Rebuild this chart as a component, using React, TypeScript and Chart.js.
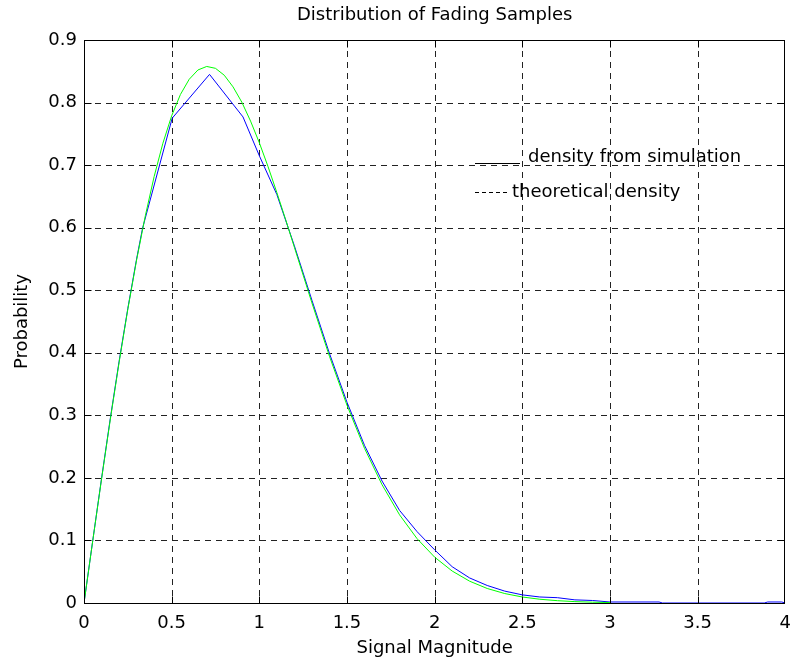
import React, { useEffect, useRef } from "react";
import { Chart, registerables } from "chart.js";

Chart.register(...registerables);

const titleText = "Distribution of Fading Samples";
const xTitle = "Signal Magnitude";
const yTitle = "Probability";
const legendLabels = ["density from simulation", "theoretical density"];

const xTicks = [0, 0.5, 1, 1.5, 2, 2.5, 3, 3.5, 4];
const yTicks = [0, 0.1, 0.2, 0.3, 0.4, 0.5, 0.6, 0.7, 0.8, 0.9];

// density from simulation (blue)
const simX = [0, 0.05, 0.1, 0.15, 0.2, 0.25, 0.3, 0.334, 0.503, 0.716, 0.907, 1.0, 1.1, 1.2, 1.3, 1.4, 1.5, 1.6, 1.7, 1.8, 1.9, 2.0, 2.1, 2.2, 2.3, 2.4, 2.5, 2.6, 2.7, 2.8, 2.9, 3.0, 3.28, 3.3, 3.88, 3.9, 3.98, 4.0];
const simY = [0, 0.1, 0.199, 0.295, 0.386, 0.471, 0.55, 0.599, 0.775, 0.845, 0.777, 0.715, 0.653, 0.571, 0.484, 0.399, 0.321, 0.252, 0.195, 0.148, 0.114, 0.085, 0.058, 0.04, 0.028, 0.019, 0.013, 0.0096, 0.0085, 0.005, 0.004, 0.0016, 0.0016, 0, 0, 0.0016, 0.0016, 0];

// theoretical density (green)
const theoX = [0, 0.05, 0.1, 0.15, 0.2, 0.25, 0.3, 0.35, 0.4, 0.45, 0.5, 0.55, 0.6, 0.65, 0.7, 0.75, 0.8, 0.85, 0.9, 0.95, 1.0, 1.05, 1.1, 1.15, 1.2, 1.3, 1.4, 1.5, 1.6, 1.7, 1.8, 1.9, 2.0, 2.1, 2.2, 2.3, 2.4, 2.5, 2.6, 2.7, 2.8, 2.9, 3.0];
const theoY = [0, 0.0998, 0.198, 0.2933, 0.3843, 0.4697, 0.5484, 0.6193, 0.6817, 0.735, 0.7788, 0.8129, 0.8372, 0.8521, 0.8577, 0.8547, 0.8437, 0.8251, 0.8007, 0.7704, 0.7358, 0.6974, 0.6561, 0.613, 0.5686, 0.4797, 0.3944, 0.3162, 0.2473, 0.1891, 0.1409, 0.1028, 0.0733, 0.0511, 0.0348, 0.0232, 0.0151, 0.0096, 0.006, 0.0037, 0.0022, 0.0013, 0.0007];

const FONT = "'DejaVu Sans', sans-serif";

const decorPlugin = {
  id: "decor",
  beforeDatasetsDraw(chart: any) {
    const { ctx, chartArea: a, scales } = chart;
    const xs = scales.x;
    const ys = scales.y;
    ctx.save();
    ctx.strokeStyle = "#222";
    ctx.lineWidth = 1;
    ctx.setLineDash([6, 5]);
    for (const v of xTicks) {
      if (v === xTicks[0] || v === xTicks[xTicks.length - 1]) continue;
      const px = Math.round(xs.getPixelForValue(v)) + 0.5;
      ctx.beginPath();
      ctx.moveTo(px, a.top);
      ctx.lineTo(px, a.bottom);
      ctx.stroke();
    }
    for (const v of yTicks) {
      if (v === yTicks[0] || v === yTicks[yTicks.length - 1]) continue;
      const py = Math.round(ys.getPixelForValue(v)) + 0.5;
      ctx.beginPath();
      ctx.moveTo(a.left, py);
      ctx.lineTo(a.right, py);
      ctx.stroke();
    }
    ctx.restore();
  },
  afterDatasetsDraw(chart: any) {
    const { ctx, chartArea: a, scales } = chart;
    const xs = scales.x;
    const ys = scales.y;
    ctx.save();
    ctx.strokeStyle = "#000";
    ctx.lineWidth = 1;
    ctx.setLineDash([]);
    const L = Math.round(a.left) + 0.5;
    const R = Math.round(a.right) - 0.5;
    const T = Math.round(a.top) + 0.5;
    const B = Math.round(a.bottom) + 0.5;
    ctx.strokeRect(L, T, R - L, B - T);
    const tl = 7;
    ctx.beginPath();
    for (const v of xTicks) {
      const px = Math.min(R, Math.max(L, Math.round(xs.getPixelForValue(v)) + 0.5));
      ctx.moveTo(px, B);
      ctx.lineTo(px, B - tl);
      ctx.moveTo(px, T);
      ctx.lineTo(px, T + tl);
    }
    for (const v of yTicks) {
      const py = Math.min(B, Math.max(T, Math.round(ys.getPixelForValue(v)) + 0.5));
      ctx.moveTo(L, py);
      ctx.lineTo(L + tl, py);
      ctx.moveTo(R, py);
      ctx.lineTo(R - tl, py);
    }
    ctx.stroke();

    ctx.fillStyle = "#000";
    ctx.textAlign = "center";
    ctx.textBaseline = "middle";
    ctx.font = `18px ${FONT}`;
    const cx = (a.left + a.right) / 2;
    ctx.fillText(titleText, cx, 15);
    ctx.fillText(xTitle, cx, 648);
    ctx.save();
    ctx.translate(22, (a.top + a.bottom) / 2);
    ctx.rotate(-Math.PI / 2);
    ctx.fillText(yTitle, 0, 0);
    ctx.restore();

    // legend (no box)
    ctx.textAlign = "left";
    ctx.beginPath();
    ctx.moveTo(475, 163.5);
    ctx.lineTo(520, 163.5);
    ctx.stroke();
    ctx.fillText(legendLabels[0], 528, 157);
    ctx.setLineDash([4, 3]);
    ctx.beginPath();
    ctx.moveTo(475, 192.5);
    ctx.lineTo(508, 192.5);
    ctx.stroke();
    ctx.setLineDash([]);
    ctx.fillText(legendLabels[1], 512, 192);
    ctx.restore();
  },
};

export default function App() {
  const ref = useRef<HTMLCanvasElement | null>(null);
  useEffect(() => {
    document.body.style.margin = "0";
    const canvas = ref.current!;
    const chart = new Chart(canvas, {
      type: "line",
      data: {
        datasets: [
          {
            label: legendLabels[1],
            data: theoX.map((x, i) => ({ x, y: theoY[i] })),
            borderColor: "#00ff00",
            borderWidth: 1,
            pointRadius: 0,
            tension: 0,
            order: 0,
          },
          {
            label: legendLabels[0],
            data: simX.map((x, i) => ({ x, y: simY[i] })),
            borderColor: "#0000ff",
            borderWidth: 1,
            pointRadius: 0,
            tension: 0,
            order: 1,
          },
        ],
      },
      options: {
        responsive: false,
        animation: false,
        events: [],
        layout: { padding: { top: 40, right: 7, left: 0, bottom: 0 } },
        plugins: {
          legend: { display: false },
          tooltip: { enabled: false },
          title: { display: false },
        },
        scales: {
          x: {
            type: "linear",
            min: 0,
            max: 4,
            afterBuildTicks: (s: any) => {
              s.ticks = xTicks.map((v) => ({ value: v }));
            },
            afterFit: (s: any) => {
              s.height = 61;
            },
            grid: { display: false, drawTicks: false },
            border: { display: false },
            ticks: {
              color: "#000",
              font: { family: FONT, size: 18 },
              padding: 10,
              maxRotation: 0,
              autoSkip: false,
              callback: (v: any) => String(v),
            },
          },
          y: {
            type: "linear",
            min: 0,
            max: 0.9,
            afterBuildTicks: (s: any) => {
              s.ticks = yTicks.map((v) => ({ value: v }));
            },
            afterFit: (s: any) => {
              s.width = 84;
            },
            grid: { display: false, drawTicks: false },
            border: { display: false },
            ticks: {
              color: "#000",
              font: { family: FONT, size: 18 },
              padding: 7,
              autoSkip: false,
              callback: (v: any) => String(Math.round(v * 10) / 10),
            },
          },
        },
      },
      plugins: [decorPlugin],
    });
    return () => chart.destroy();
  }, []);
  return <canvas ref={ref} width={801} height={664} style={{ display: "block" }} />;
}
